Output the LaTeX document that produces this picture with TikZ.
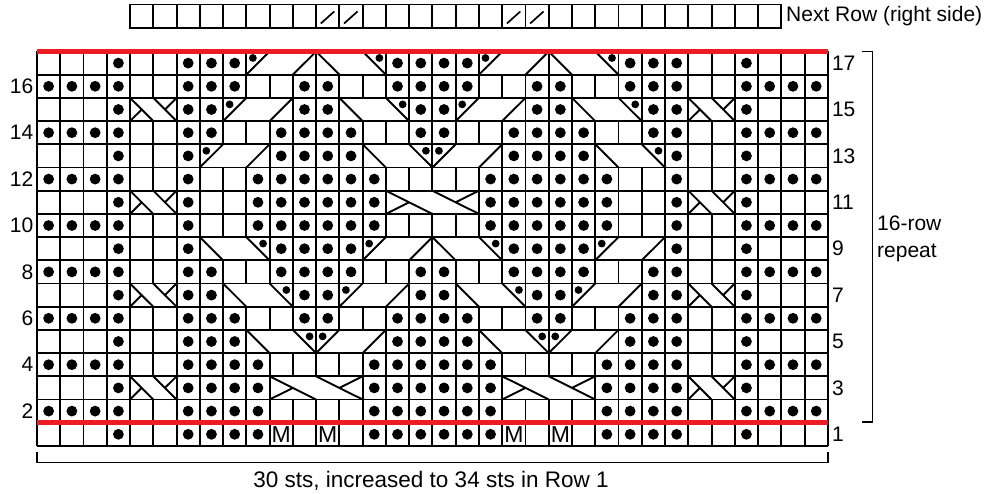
\documentclass[tikz,border=0pt]{standalone}
\usepackage{fontspec}
\setmainfont{Liberation Sans}
\definecolor{chartred}{RGB}{237,28,36}
% block clear: erase the inner cell walls of a cable block (col, row, ncells)
\newcommand\blockclear[3]{%
  \foreach \k in {1,...,\numexpr#3-1\relax}
    \fill[white] ({#1-1+\k-0.07},{17-#2+0.042}) rectangle ({#1-1+\k+0.07},{18-#2-0.042});}
% 3-cell cable, band moving left upward, dot upper right of last cell
\newcommand\cabL[2]{%
  \blockclear{#1}{#2}{3}
  \draw[gridline] (#1-1,17-#2) -- (#1,18-#2) (#1+1,17-#2) -- (#1+2,18-#2);
  \fill ({#1+2-0.28},{17-#2+0.28}) circle[radius=3.9pt];}
% 3-cell cable, band moving right upward, dot upper left of first cell
\newcommand\cabR[2]{%
  \blockclear{#1}{#2}{3}
  \draw[gridline] (#1-1,18-#2) -- (#1,17-#2) (#1+1,18-#2) -- (#1+2,17-#2);
  \fill ({#1-1+0.28},{17-#2+0.28}) circle[radius=3.9pt];}
% n-cell cross: col, row, n
\newcommand\cabX[3]{%
  \blockclear{#1}{#2}{#3}
  \draw[gridline] (#1-1,17-#2) -- ({#1-1+#3/2},18-#2)
     ({#1-1+#3/2},17-#2) -- ({#1-1+#3},18-#2)
     (#1-1,18-#2) -- ({#1-1+#3/4},17.5-#2)
     ({#1-1+#3},17-#2) -- ({#1-1+3*#3/4},17.5-#2);}
\newcommand\dotrow[2]{\foreach \c in {#2}{\fill ({\c-0.5},{17.5-#1}) circle[radius=5.4pt];}}
\begin{document}
\begin{tikzpicture}[x=1pt,y=-1pt,
  gridline/.style={line width=1.9pt},
  lbl/.style={inner sep=0pt, font=\fontsize{21}{25}\selectfont},
  redrule/.style={line width=4.5pt, draw=chartred}]
\useasboundingbox (0,0) rectangle (990,494);
\fill[white] (0,0) rectangle (990,494);

% top strip
\begin{scope}[shift={(37,4.5)}, x=23.26pt, y=-23.2pt]
  \draw[gridline] (4,0) rectangle (32,1);
  \foreach \c in {5,...,31} \draw[gridline] (\c,0) -- (\c,1);
  \foreach \c in {13,14,21,22} \draw[line width=1.7pt] ({\c-1+0.2},0.82) -- ({\c-1+0.78},0.3);
\end{scope}
\node[lbl, anchor=base west] (next) at (786,21.7) {Next Row (right side)};

% chart
\begin{scope}[shift={(37,51.5)}, x=23.26pt, y=-23.2pt]
  \foreach \c in {0,...,34} \draw[gridline] (\c,0) -- (\c,17);
  \foreach \r in {0,...,17} \draw[gridline] (0,\r) -- (34,\r);
  % row 3
  \cabX{5}{3}{2} \cabX{29}{3}{2} \cabX{11}{3}{4} \cabX{21}{3}{4}
  % row 5
  \cabL{10}{5} \cabR{13}{5} \cabL{20}{5} \cabR{23}{5}
  % row 7
  \cabX{5}{7}{2} \cabX{29}{7}{2} \cabL{9}{7} \cabR{14}{7} \cabL{19}{7} \cabR{24}{7}
  % row 9
  \cabL{8}{9} \cabR{15}{9} \cabL{18}{9} \cabR{25}{9}
  % row 11
  \cabX{5}{11}{2} \cabX{29}{11}{2} \cabX{16}{11}{4}
  % row 13
  \cabR{8}{13} \cabL{15}{13} \cabR{18}{13} \cabL{25}{13}
  % row 15
  \cabX{5}{15}{2} \cabX{29}{15}{2} \cabR{9}{15} \cabL{14}{15} \cabR{19}{15} \cabL{24}{15}
  % row 17
  \cabR{10}{17} \cabL{13}{17} \cabR{20}{17} \cabL{23}{17}
  % purl dots
  \dotrow{1}{4,7,8,9,10,15,16,17,18,19,20,25,26,27,28,31}
  \dotrow{2}{1,2,3,4,7,8,9,10,15,16,17,18,19,20,25,26,27,28,31,32,33,34}
  \dotrow{3}{4,7,8,9,10,15,16,17,18,19,20,25,26,27,28,31}
  \dotrow{4}{1,2,3,4,7,8,9,10,15,16,17,18,19,20,25,26,27,28,31,32,33,34}
  \dotrow{5}{4,7,8,9,16,17,18,19,26,27,28,31}
  \dotrow{6}{1,2,3,4,7,8,9,12,13,16,17,18,19,22,23,26,27,28,31,32,33,34}
  \dotrow{7}{4,7,8,12,13,17,18,22,23,27,28,31}
  \dotrow{8}{1,2,3,4,7,8,11,12,13,14,17,18,21,22,23,24,27,28,31,32,33,34}
  \dotrow{9}{4,7,11,12,13,14,21,22,23,24,28,31}
  \dotrow{10}{1,2,3,4,7,10,11,12,13,14,15,20,21,22,23,24,25,28,31,32,33,34}
  \dotrow{11}{4,7,10,11,12,13,14,15,20,21,22,23,24,25,28,31}
  \dotrow{12}{1,2,3,4,7,10,11,12,13,14,15,20,21,22,23,24,25,28,31,32,33,34}
  \dotrow{13}{4,7,11,12,13,14,21,22,23,24,28,31}
  \dotrow{14}{1,2,3,4,7,8,11,12,13,14,17,18,21,22,23,24,27,28,31,32,33,34}
  \dotrow{15}{4,7,8,12,13,17,18,22,23,27,28,31}
  \dotrow{16}{1,2,3,4,7,8,9,12,13,16,17,18,19,22,23,26,27,28,31,32,33,34}
  \dotrow{17}{4,7,8,9,16,17,18,19,26,27,28,31}
  % make-one cells
  \foreach \c in {11,13,21,23}
    \node[inner sep=0pt, font=\fontsize{23}{23}\selectfont] (M\c) at ({\c-0.5},16.5) {M};
  % red rules
  \draw[redrule] (0,0) -- (34,0);
  \draw[redrule] (0,16) -- (34,16);
  % row numbers
  \foreach \r in {2,4,...,16} \node[lbl, anchor=east] (L\r) at (-0.15,{17.5-\r}) {\r};
  \foreach \r in {1,3,...,17} \node[lbl, anchor=west] (R\r) at (34.17,{17.5-\r}) {\r};
\end{scope}

% repeat bracket
\draw[line width=1.8pt] (862,51.5) -- (872.5,51.5) -- (872.5,421.7) -- (862,421.7);
\node[lbl, anchor=base west] (rep1) at (877,231) {16-row};
\node[lbl, anchor=base west] (rep2) at (877,258) {repeat};

% stitch bracket
\draw[line width=1.8pt] (37,452) -- (37,462.5) -- (828,462.5) -- (828,452);
\node[inner sep=0pt, font=\fontsize{22.5}{26}\selectfont, anchor=base] (sts) at (431,487) {30 sts, increased to 34 sts in Row 1};
\end{tikzpicture}
\end{document}
